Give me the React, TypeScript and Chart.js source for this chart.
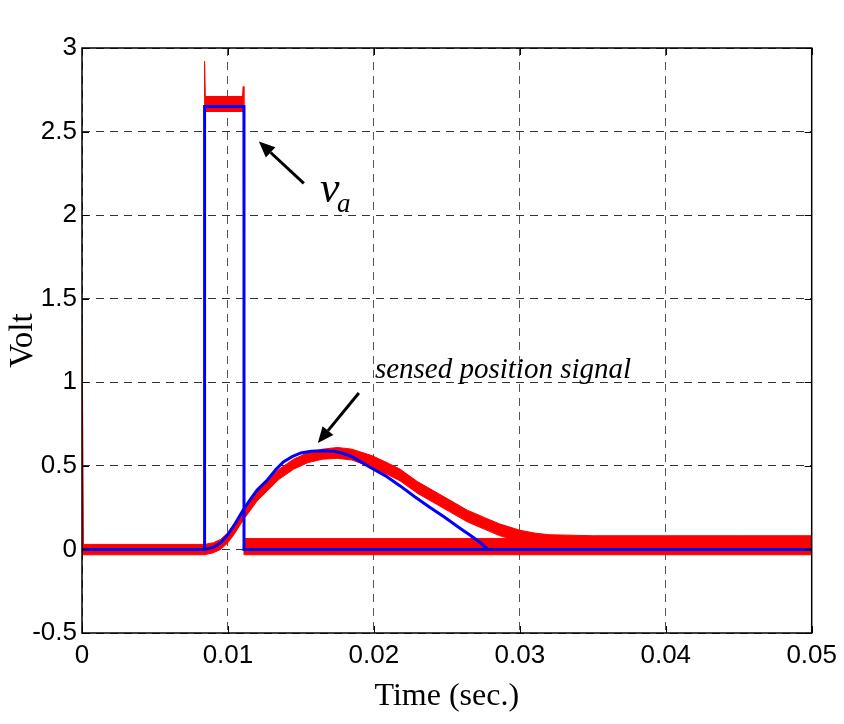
import React, { useEffect, useRef } from "react";
import { Chart, registerables } from "chart.js";

Chart.register(...registerables);

// ---- tick values ----
const xTickValues = [0, 0.01, 0.02, 0.03, 0.04, 0.05];
const xTickLabels = ["0", "0.01", "0.02", "0.03", "0.04", "0.05"];
const yTickValues = [-0.5, 0, 0.5, 1, 1.5, 2, 2.5, 3];
const yTickLabels = ["-0.5", "0", "0.5", "1", "1.5", "2", "2.5", "3"];

// ---- blue: applied voltage v_a (ideal) ----
const vaTime = [0, 0.0084, 0.0084, 0.0111, 0.0111, 0.05];
const vaVolt = [0, 0, 2.65, 2.65, 0, 0];

// ---- blue: simulated position signal ----
const simTime = [0.0084, 0.009, 0.0095, 0.01, 0.0105, 0.011, 0.0115, 0.012, 0.0127, 0.0133, 0.0138, 0.0144, 0.015, 0.0157, 0.0165, 0.0172, 0.0178, 0.0184, 0.019, 0.0197, 0.0208, 0.0218, 0.0228, 0.0238, 0.0248, 0.0259, 0.0266, 0.0273, 0.0278, 0.05];
const simVolt = [0, 0.012, 0.04, 0.09, 0.155, 0.23, 0.295, 0.355, 0.415, 0.48, 0.523, 0.555, 0.577, 0.587, 0.59, 0.588, 0.577, 0.559, 0.53, 0.493, 0.44, 0.38, 0.315, 0.254, 0.195, 0.127, 0.085, 0.04, 0, 0];

// ---- red: measured v_a, noise envelope ----
const measVaHiTime = [0, 0.0001, 0.0084, 0.0084, 0.00845, 0.011, 0.01105, 0.0111, 0.0111, 0.05];
const measVaHi = [1.45, 0.03, 0.03, 2.92, 2.71, 2.71, 2.77, 2.7, 0.065, 0.065];
const measVaLoTime = [0, 0.0084, 0.0084, 0.0111, 0.0111, 0.05];
const measVaLo = [-0.032, -0.032, 2.62, 2.62, -0.032, -0.032];

// ---- red: sensed position signal, noise envelope ----
const posTime = [0.0084, 0.009, 0.0095, 0.01, 0.0105, 0.011, 0.0115, 0.012, 0.0127, 0.0135, 0.0145, 0.0155, 0.0165, 0.0175, 0.0185, 0.0199, 0.021, 0.0218, 0.023, 0.024, 0.0252, 0.0264, 0.0276, 0.0286, 0.03, 0.031, 0.032, 0.035, 0.04, 0.045, 0.05];
const posHi = [0.03, 0.04, 0.06, 0.1, 0.16, 0.23, 0.29, 0.35, 0.41, 0.48, 0.54, 0.58, 0.6, 0.61, 0.6, 0.56, 0.515, 0.48, 0.405, 0.355, 0.295, 0.235, 0.19, 0.153, 0.115, 0.098, 0.088, 0.082, 0.082, 0.082, 0.082];
const posLo = [-0.032, -0.02, 0.0, 0.04, 0.1, 0.17, 0.23, 0.29, 0.35, 0.42, 0.48, 0.52, 0.54, 0.545, 0.535, 0.49, 0.445, 0.41, 0.335, 0.285, 0.225, 0.165, 0.12, 0.083, 0.045, 0.028, 0.018, 0.008, 0.008, 0.008, 0.008];

// ---- annotations (data coordinates) ----
const vaArrow = { from: [0.0152, 2.19], to: [0.01212, 2.44] };
const vaLabelPos = { v: [0.0163, 2.079], a: [0.01747, 2.019] };
const posArrow = { from: [0.01897, 0.936], to: [0.01616, 0.637] };
const posLabelPos = [0.02007, 1.026];
const posLabelText = "sensed position signal";

const pts = (xs: number[], ys: number[]) => xs.map((x, i) => ({ x, y: ys[i] }));
const band = (hx: number[], hy: number[], lx: number[], ly: number[]) =>
  pts(hx, hy).concat(pts(lx, ly).reverse());

const RED = "#ff0000";
const BLUE = "#0000ff";

const overlay = {
  id: "overlay",
  afterDatasetsDraw(chart: any) {
    const { ctx, chartArea } = chart;
    const xs = chart.scales.x;
    const ys = chart.scales.y;
    const { left, right, top, bottom } = chartArea;
    ctx.save();
    ctx.strokeStyle = "#000";
    ctx.lineWidth = 1.5;
    ctx.setLineDash([]);
    ctx.strokeRect(left, top, right - left, bottom - top);
    ctx.lineWidth = 1;
    const tl = 7;
    ctx.beginPath();
    xTickValues.forEach((v) => {
      const px = Math.round(xs.getPixelForValue(v)) + 0.5;
      ctx.moveTo(px, bottom);
      ctx.lineTo(px, bottom - tl);
      ctx.moveTo(px, top);
      ctx.lineTo(px, top + tl);
    });
    yTickValues.forEach((v) => {
      const py = Math.round(ys.getPixelForValue(v)) + 0.5;
      ctx.moveTo(left, py);
      ctx.lineTo(left + tl, py);
      ctx.moveTo(right, py);
      ctx.lineTo(right - tl, py);
    });
    ctx.stroke();

    const arrow = (a: { from: number[]; to: number[] }) => {
      const x1 = xs.getPixelForValue(a.from[0]);
      const y1 = ys.getPixelForValue(a.from[1]);
      const x2 = xs.getPixelForValue(a.to[0]);
      const y2 = ys.getPixelForValue(a.to[1]);
      const ang = Math.atan2(y2 - y1, x2 - x1);
      const hl = 16;
      const hw = 7;
      const bx = x2 - hl * Math.cos(ang);
      const by = y2 - hl * Math.sin(ang);
      ctx.strokeStyle = "#000";
      ctx.fillStyle = "#000";
      ctx.lineWidth = 3;
      ctx.beginPath();
      ctx.moveTo(x1, y1);
      ctx.lineTo(bx, by);
      ctx.stroke();
      ctx.beginPath();
      ctx.moveTo(x2, y2);
      ctx.lineTo(bx + hw * Math.sin(ang), by - hw * Math.cos(ang));
      ctx.lineTo(bx - hw * Math.sin(ang), by + hw * Math.cos(ang));
      ctx.closePath();
      ctx.fill();
    };
    arrow(vaArrow);
    arrow(posArrow);

    ctx.fillStyle = "#000";
    ctx.textBaseline = "alphabetic";
    ctx.textAlign = "left";
    ctx.font = 'italic 44px "Liberation Serif"';
    ctx.fillText("v", xs.getPixelForValue(vaLabelPos.v[0]), ys.getPixelForValue(vaLabelPos.v[1]));
    ctx.font = 'italic 27px "Liberation Serif"';
    ctx.fillText("a", xs.getPixelForValue(vaLabelPos.a[0]), ys.getPixelForValue(vaLabelPos.a[1]));
    ctx.font = 'italic 29px "Liberation Serif"';
    ctx.fillText(posLabelText, xs.getPixelForValue(posLabelPos[0]), ys.getPixelForValue(posLabelPos[1]));
    ctx.restore();
  },
};

export default function App() {
  const ref = useRef<HTMLCanvasElement | null>(null);
  useEffect(() => {
    if (!ref.current) return;
    const chart = new Chart(ref.current, {
      type: "scatter",
      data: {
        datasets: [
          {
            data: pts(vaTime, vaVolt),
            showLine: true,
            borderColor: BLUE,
            borderWidth: 3,
            pointRadius: 0,
            fill: false,
          },
          {
            data: pts(simTime, simVolt),
            showLine: true,
            borderColor: BLUE,
            borderWidth: 3,
            pointRadius: 0,
            fill: false,
          },
          {
            data: band(measVaHiTime, measVaHi, measVaLoTime, measVaLo),
            showLine: true,
            borderColor: RED,
            backgroundColor: RED,
            borderWidth: 1,
            pointRadius: 0,
            fill: "shape",
          } as any,
          {
            data: band(posTime, posHi, posTime, posLo),
            showLine: true,
            borderColor: RED,
            backgroundColor: RED,
            borderWidth: 1,
            pointRadius: 0,
            fill: "shape",
          } as any,
        ],
      },
      options: {
        animation: false,
        responsive: false,
        maintainAspectRatio: false,
        layout: { padding: { top: 48, right: 32, left: 0, bottom: 0 } },
        plugins: {
          legend: { display: false },
          tooltip: { enabled: false },
        },
        scales: {
          x: {
            type: "linear",
            min: 0,
            max: 0.05,
            afterFit: (s: any) => {
              s.height = 91;
            },
            afterBuildTicks: (s: any) => {
              s.ticks = xTickValues.map((v) => ({ value: v }));
            },
            ticks: {
              color: "#000",
              padding: 7,
              maxRotation: 0,
              autoSkip: false,
              font: { family: "Liberation Sans", size: 26 },
              callback: (v: any) => {
                const i = xTickValues.findIndex((t) => Math.abs(t - Number(v)) < 1e-9);
                return i >= 0 ? xTickLabels[i] : "";
              },
            },
            grid: {
              color: "#555",
              lineWidth: 1,
              drawTicks: false,
            },
            border: { display: false, dash: [8, 6] },
            title: {
              display: true,
              text: "Time (sec.)",
              color: "#000",
              font: { family: "Liberation Serif", size: 32 },
              padding: { top: 0, bottom: 8 },
            },
          } as any,
          y: {
            type: "linear",
            min: -0.5,
            max: 3,
            afterFit: (s: any) => {
              s.width = 82;
            },
            afterBuildTicks: (s: any) => {
              s.ticks = yTickValues.map((v) => ({ value: v }));
            },
            ticks: {
              color: "#000",
              padding: 5,
              autoSkip: false,
              font: { family: "Liberation Sans", size: 26 },
              callback: (v: any) => {
                const i = yTickValues.findIndex((t) => Math.abs(t - Number(v)) < 1e-9);
                return i >= 0 ? yTickLabels[i] : "";
              },
            },
            grid: {
              color: "#333",
              lineWidth: 1,
              drawTicks: false,
            },
            border: { display: false, dash: [8, 6] },
            title: {
              display: true,
              text: "Volt",
              color: "#000",
              font: { family: "Liberation Serif", size: 33 },
              padding: { top: 4, bottom: 0 },
            },
          } as any,
        },
      },
      plugins: [overlay],
    });
    return () => chart.destroy();
  }, []);
  return (
    <div style={{ position: "absolute", left: 0, top: 0, width: 844, height: 724, background: "#fff" }}>
      <canvas ref={ref} width={844} height={724} style={{ display: "block" }} />
    </div>
  );
}
